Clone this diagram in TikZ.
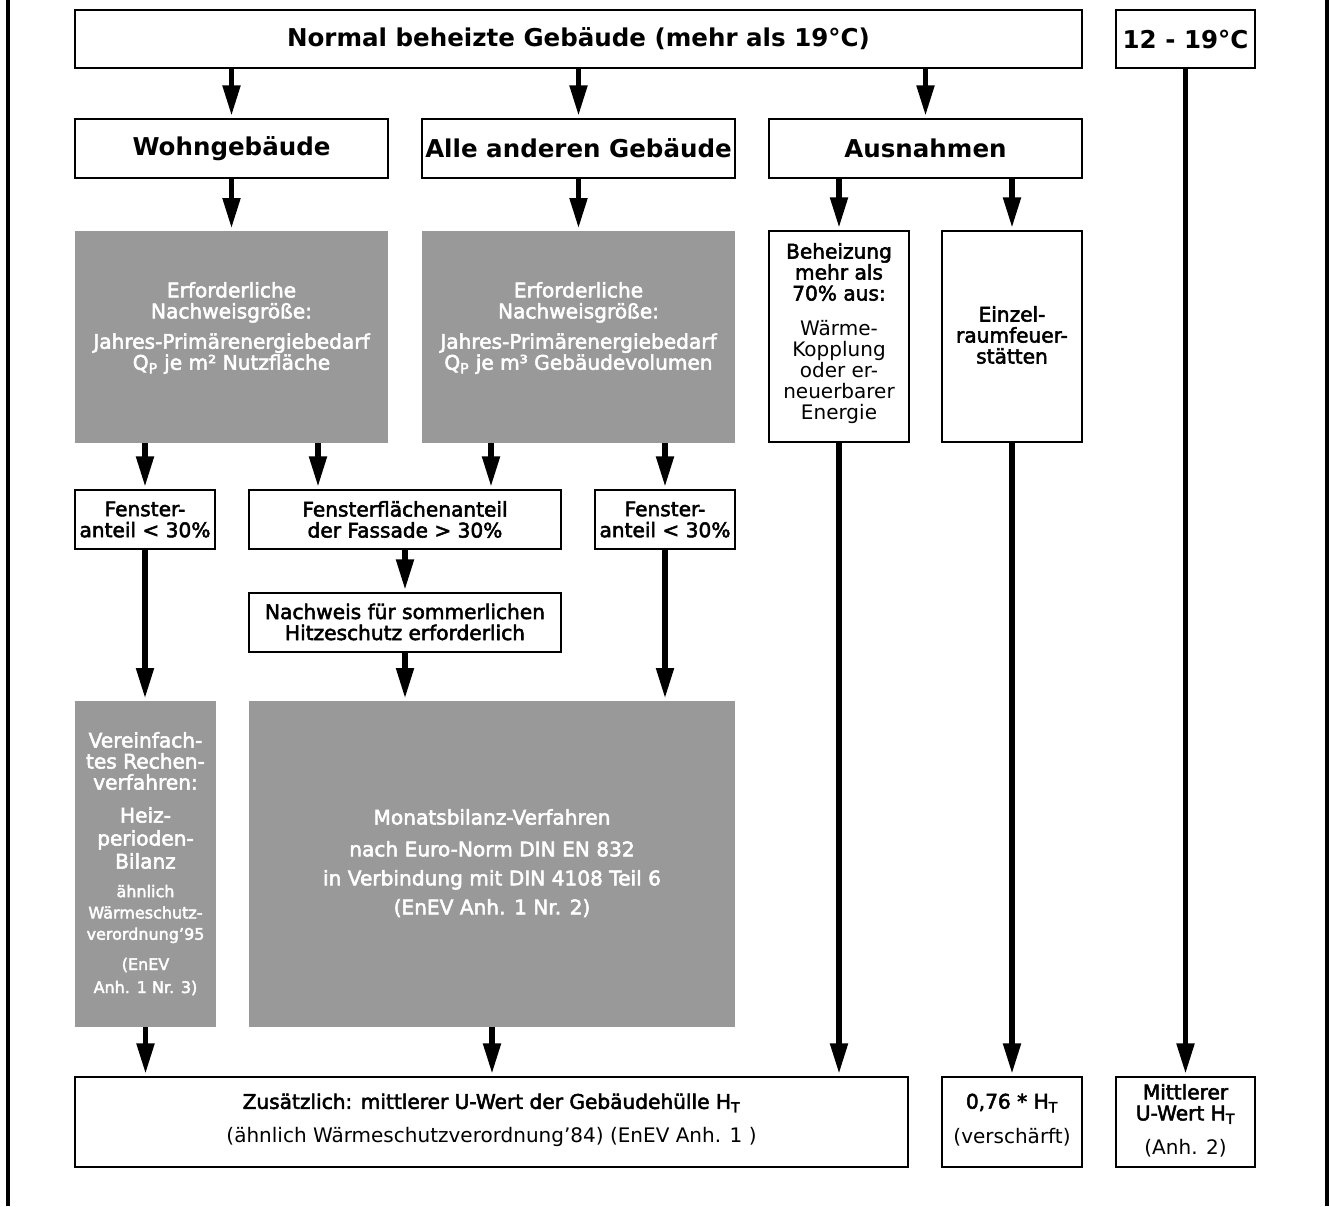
\documentclass[tikz,border=0pt]{standalone}
\usepackage{fontspec}
\setmainfont{DejaVu Sans}
\newfontfamily\mymedfont{DejaVu Sans}[BoldFont={DejaVu Sans}, BoldFeatures={FakeBold=2.6}]
\usetikzlibrary{arrows.meta,fit,calc}
\definecolor{boxgray}{RGB}{153,153,153}
\tikzset{
  box/.style={draw, line width=1.3pt, inner sep=0pt},
  gbox/.style={fill=boxgray, draw=none, inner sep=0pt},
  txt/.style={inner sep=0pt, align=center},
  ttl/.style={txt, font=\fontsize{18.4}{22}\selectfont\bfseries},
  med/.style={txt, font=\mymedfont\bfseries\fontsize{15.1}{15.75}\selectfont},
  lgt/.style={txt, font=\fontsize{15}{15.75}\selectfont},
  sml/.style={txt, font=\mymedfont\bfseries\fontsize{12}{16}\selectfont},
  wht/.style={text=white},
  arr/.style={line width=4.3pt, -{Triangle[length=23pt,width=12.5pt]}, shorten >=1.5pt},
  frameline/.style={line width=2.3pt}
}
\begin{document}
\begin{tikzpicture}[x=0.75pt,y=-0.75pt]
\useasboundingbox (0,0) rectangle (1330,1206);
% frame
\draw[frameline] (8,0) -- (8,1206);
\draw[frameline] (1327,0) -- (1327,1206);
% boxes
\node[box, fit={(75,10) (1082,68)}] (T) {};
\node[box, fit={(1116,10) (1255,68)}] (T2) {};
\node[box, fit={(75,119) (388,178)}] (W) {};
\node[box, fit={(422,119) (735,178)}] (A) {};
\node[box, fit={(769,119) (1082,178)}] (Aus) {};
\node[gbox, fit={(75,231) (388,443)}] (G1) {};
\node[gbox, fit={(422,231) (735,443)}] (G2) {};
\node[box, fit={(769,231) (909,442)}] (Beh) {};
\node[box, fit={(942,231) (1082,442)}] (Einz) {};
\node[box, fit={(75,490) (215,549)}] (F1) {};
\node[box, fit={(249,490) (561,549)}] (F2) {};
\node[box, fit={(595,490) (735,549)}] (F3) {};
\node[box, fit={(249,593) (561,652)}] (N) {};
\node[gbox, fit={(75,701) (216,1027)}] (V) {};
\node[gbox, fit={(249,701) (735,1027)}] (M) {};
\node[box, fit={(75,1077) (908,1167)}] (Z) {};
\node[box, fit={(942,1077) (1082,1167)}] (K) {};
\node[box, fit={(1116,1077) (1255,1167)}] (Mi) {};
% texts
\node[ttl] (Tt) at (578.5,39) {Normal beheizte Gebäude (mehr als 19°C)};
\node[ttl] (T2t) at (1185.5,39) {12 - 19°C};
\node[ttl] (Wt) at (231.5,148.5) {Wohngebäude};
\node[ttl] (At) at (578.5,148.5) {Alle anderen Gebäude};
\node[ttl] (Ausn) at (925.5,148.5) {Ausnahmen};
\node[med, wht] (G1t) at (231.5,328) {Erforderliche\\Nachweisgröße:\\[7pt]Jahres-Primärenergiebedarf\\Q\textsubscript{P} je m² Nutzfläche};
\node[med, wht] (G2t) at (578.5,328) {Erforderliche\\Nachweisgröße:\\[7pt]Jahres-Primärenergiebedarf\\Q\textsubscript{P} je m³ Gebäudevolumen};
\node[med] (Beht) at (839,272) {Beheizung\\mehr als\\70\% aus:};
\node[lgt] (Behb) at (839,372) {Wärme-\\Kopplung\\oder er-\\neuerbarer\\Energie};
\node[med] (Einzt) at (1012,335) {Einzel-\\raumfeuer-\\stätten};
\node[med] (F1t) at (145,519.5) {Fenster-\\anteil < 30\%};
\node[med] (F2t) at (405,519.5) {Fensterflächenanteil\\der Fassade > 30\%};
\node[med] (F3t) at (665,519.5) {Fenster-\\anteil < 30\%};
\node[med] (Nt) at (405,622) {Nachweis für sommerlichen\\Hitzeschutz erforderlich};
\node[med, wht] (V1) at (145.5,761) {Vereinfach-\\tes Rechen-\\verfahren:};
\node[med, wht, font=\mymedfont\bfseries\fontsize{15.1}{17.25}\selectfont] (V2) at (145.5,838) {Heiz-\\perioden-\\Bilanz};
\node[sml, wht] (V3) at (145.5,914) {ähnlich\\Wärmeschutz-\\verordnung’95};
\node[sml, wht, font=\mymedfont\bfseries\fontsize{12}{17.25}\selectfont] (V4) at (145.5,976.5) {(EnEV\\Anh. 1 Nr. 3)};
\node[med, wht] (Mh) at (492,817) {Monatsbilanz-Verfahren};
\node[med, wht, font=\mymedfont\bfseries\fontsize{15.1}{21.75}\selectfont] (Mb) at (492,879) {nach Euro-Norm DIN EN 832\\in Verbindung mit DIN 4108 Teil 6\\(EnEV Anh. 1 Nr. 2)};
\node[med] (Z1) at (491.5,1103) {Zusätzlich: mittlerer U-Wert der Gebäudehülle H\textsubscript{T}};
\node[lgt] (Z2) at (491.5,1137) {(ähnlich Wärmeschutzverordnung’84) (EnEV Anh. 1 )};
\node[med] (K1) at (1012,1103) {0,76 * H\textsubscript{T}};
\node[lgt] (K2) at (1012,1137) {(verschärft)};
\node[med] (Mi1) at (1185.5,1104) {Mittlerer\\U-Wert H\textsubscript{T}};
\node[lgt] (Mi2) at (1185.5,1148) {(Anh. 2)};
% arrows
\coordinate (x318) at (318,0);
\coordinate (x491) at (491,0);
\draw[arr] (W.north |- T.south) -- (W.north);
\draw[arr] (A.north |- T.south) -- (A.north);
\draw[arr] (Aus.north |- T.south) -- (Aus.north);
\draw[arr] (W.south) -- (G1.north);
\draw[arr] (A.south) -- (G2.north);
\draw[arr] (Beh.north |- Aus.south) -- (Beh.north);
\draw[arr] (Einz.north |- Aus.south) -- (Einz.north);
\draw[arr] (F1.north |- G1.south) -- (F1.north);
\draw[arr] (x318 |- G1.south) -- (x318 |- F2.north);
\draw[arr] (x491 |- G2.south) -- (x491 |- F2.north);
\draw[arr] (F3.north |- G2.south) -- (F3.north);
\draw[arr] (F2.south) -- (N.north);
\draw[arr] (F1.south) -- (F1.south |- V.north);
\draw[arr] (N.south) -- (N.south |- M.north);
\draw[arr] (F3.south) -- (F3.south |- M.north);
\draw[arr] (V.south) -- (V.south |- Z.north);
\draw[arr] (M.south) -- (M.south |- Z.north);
\draw[arr] (Beh.south) -- (Beh.south |- Z.north);
\draw[arr] (Einz.south) -- (Einz.south |- K.north);
\draw[arr] (T2.south) -- (T2.south |- Mi.north);
\end{tikzpicture}
\end{document}
